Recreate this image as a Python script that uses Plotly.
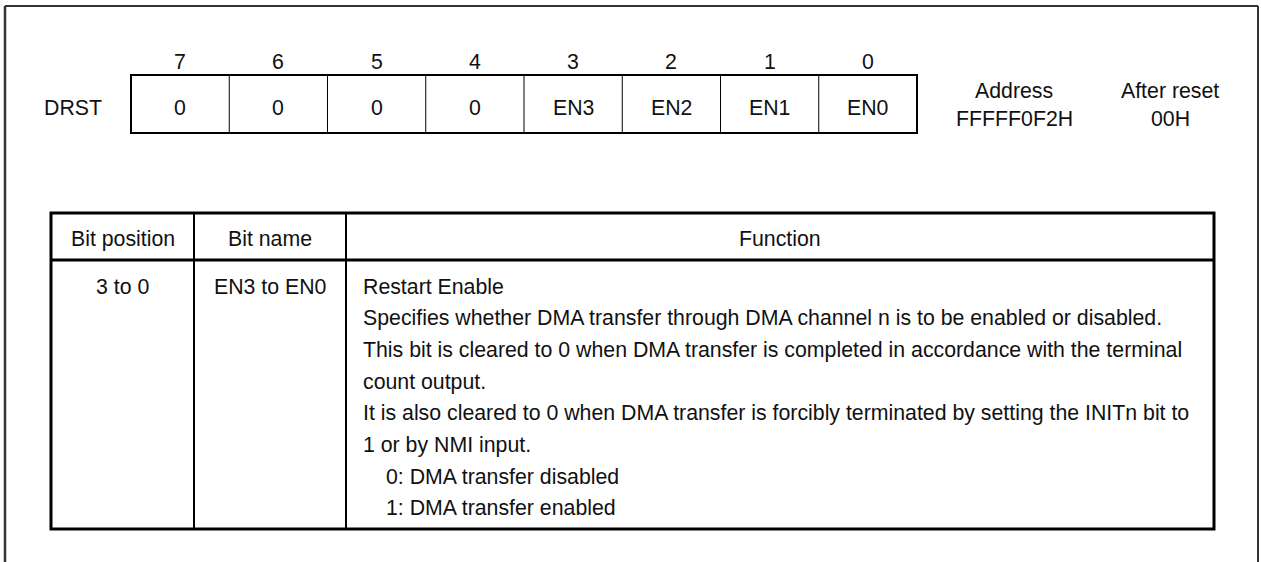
import plotly.graph_objects as go

# ---- data ----
register_name = "DRST"
bit_numbers = ["7", "6", "5", "4", "3", "2", "1", "0"]
bit_values = ["0", "0", "0", "0", "EN3", "EN2", "EN1", "EN0"]
address_label = ["Address", "FFFFF0F2H"]
reset_label = ["After reset", "00H"]
table_headers = ["Bit position", "Bit name", "Function"]
row_bit_position = "3 to 0"
row_bit_name = "EN3 to EN0"
function_lines = [
    "Restart Enable",
    "Specifies whether DMA transfer through DMA channel n is to be enabled or disabled.",
    "This bit is cleared to 0 when DMA transfer is completed in accordance with the terminal",
    "count output.",
    "It is also cleared to 0 when DMA transfer is forcibly terminated by setting the INITn bit to",
    "1 or by NMI input.",
    "0: DMA transfer disabled",
    "1: DMA transfer enabled",
]
function_indent = [0, 0, 0, 0, 0, 0, 1, 1]

# ---- layout constants ----
W, H = 1261, 562
FONT = "Liberation Sans, Arial, Helvetica, sans-serif"
FS = 21.3
TXT = "#111111"

reg_left, reg_cell_w = 131, 98.25
reg_top, reg_bot = 75, 133
tbl_left, tbl_c1, tbl_c2, tbl_right = 51, 194, 346, 1214
tbl_top, tbl_hdr, tbl_bot = 213, 260, 529
line_y0, line_dy = 286.5, 31.7

fig = go.Figure()
shapes = []
ann = []

def line(x0, y0, x1, y1, w, color="#000"):
    shapes.append(dict(type="line", xref="x", yref="y", x0=x0, y0=y0, x1=x1, y1=y1,
                       line=dict(color=color, width=w)))

def text(x, y, s, xanchor="center", yanchor="middle"):
    ann.append(dict(x=x, y=y, xref="x", yref="y", text=s, showarrow=False,
                    xanchor=xanchor, yanchor=yanchor,
                    font=dict(family=FONT, size=FS, color=TXT)))

# outer frame (bottom edge beyond visible area)
line(5, 6, 1258, 6, 2, "#333")
line(5, 6, 5, 600, 2.5, "#333")
line(1258, 6, 1258, 600, 2, "#333")

# register box
n = len(bit_values)
reg_right = reg_left + n * reg_cell_w
shapes.append(dict(type="rect", xref="x", yref="y", x0=reg_left, y0=reg_top,
                   x1=reg_right, y1=reg_bot, line=dict(color="#000", width=2)))
for i in range(1, n):
    xv = reg_left + i * reg_cell_w
    line(xv, reg_top, xv, reg_bot, 1)
for i, (b, v) in enumerate(zip(bit_numbers, bit_values)):
    cx = reg_left + (i + 0.5) * reg_cell_w
    text(cx, 62, b)
    text(cx, 107.5, v)
text(73, 107.5, register_name)
for k, s in enumerate(address_label):
    text(1014, 91 + 27.5 * k, s)
for k, s in enumerate(reset_label):
    text(1170, 91 + 27.5 * k, s)

# table
shapes.append(dict(type="rect", xref="x", yref="y", x0=tbl_left, y0=tbl_top,
                   x1=tbl_right, y1=tbl_bot, line=dict(color="#000", width=3)))
line(tbl_left, tbl_hdr, tbl_right, tbl_hdr, 3)
line(tbl_c1, tbl_top, tbl_c1, tbl_bot, 2)
line(tbl_c2, tbl_top, tbl_c2, tbl_bot, 2)
hdr_x = [(tbl_left + tbl_c1) / 2, (tbl_c1 + tbl_c2) / 2, (tbl_c2 + tbl_right) / 2]
for hx, h in zip(hdr_x, table_headers):
    text(hx, 238.5, h)
text(hdr_x[0], line_y0, row_bit_position)
text(hdr_x[1], line_y0, row_bit_name)
for k, (s, ind) in enumerate(zip(function_lines, function_indent)):
    text(361 + 23 * ind, line_y0 + k * line_dy, s, xanchor="left")

fig.update_layout(
    width=W, height=H,
    margin=dict(l=0, r=0, t=0, b=0),
    paper_bgcolor="white", plot_bgcolor="white",
    xaxis=dict(range=[0, W], visible=False, fixedrange=True),
    yaxis=dict(range=[H, 0], visible=False, fixedrange=True),
    shapes=shapes, annotations=ann, showlegend=False,
)
fig.write_html("out.html", config={"displayModeBar": False},
               post_script="document.body.style.margin='0';document.body.style.overflow='hidden';")
